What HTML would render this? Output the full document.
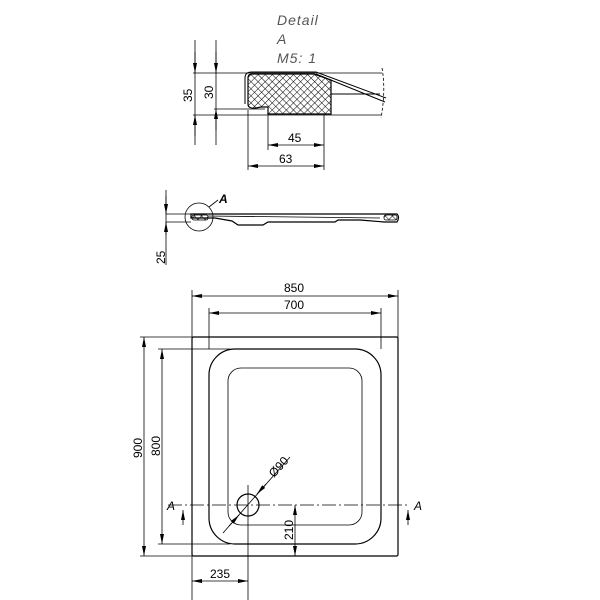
<!DOCTYPE html>
<html><head><meta charset="utf-8"><style>body{margin:0;background:#fff}svg{display:block}</style></head>
<body>
<svg width="600" height="600" viewBox="0 0 600 600" xmlns="http://www.w3.org/2000/svg" font-family="Liberation Sans, sans-serif" font-size="12" fill="none" stroke="#000">
<defs>
<pattern id="h" width="5" height="5" patternUnits="userSpaceOnUse" patternTransform="rotate(45)"><path d="M0 0V5M0 0H5" stroke="#000" stroke-width="1"/></pattern>
<marker id="a" viewBox="0 0 10 4" refX="10" refY="2" markerWidth="10" markerHeight="4" orient="auto-start-reverse" markerUnits="userSpaceOnUse"><path d="M0 0L10 2L0 4z" fill="#000" stroke="none"/></marker>
</defs>
<g stroke-width="0.8">
<g fill="#555" stroke="none" font-style="italic" font-size="14" letter-spacing="1"><text x="277" y="25">Detail</text><text x="277" y="44">A</text><text x="277" y="63">M5: 1</text></g>
<line x1="193" y1="73" x2="382" y2="73"/>
<line x1="193" y1="115" x2="381" y2="115"/>
<line x1="214" y1="109" x2="265" y2="109"/>
<line x1="195" y1="40" x2="195" y2="145"/>
<line x1="216" y1="40" x2="216" y2="145"/>
<line x1="195" y1="52" x2="195" y2="73" marker-end="url(#a)"/>
<line x1="195" y1="136" x2="195" y2="115" marker-end="url(#a)"/>
<line x1="216" y1="52" x2="216" y2="73" marker-end="url(#a)"/>
<line x1="216" y1="130" x2="216" y2="109" marker-end="url(#a)"/>
<text transform="translate(192,102) rotate(-90)" fill="#000" stroke="none">35</text>
<text transform="translate(213,99) rotate(-90)" fill="#000" stroke="none">30</text>
<path d="M248 78 Q248 74 252 74 H314 L331 80 V114 H268 V107 H261 L256 108 Q248 109 248 104 Z" fill="url(#h)" stroke-width="1.2"/>
<path d="M245 104 V78 Q245 72 252 72 H316 L386 98 M316 74 L385 102 M331 94 H380" stroke-width="1"/>
<path d="M382 68 Q386 90 381 118" stroke-dasharray="3 2"/>
<line x1="248" y1="110" x2="248" y2="170"/>
<line x1="268" y1="115" x2="268" y2="150"/>
<line x1="324" y1="115" x2="324" y2="170"/>
<line x1="268" y1="145" x2="324" y2="145" marker-start="url(#a)" marker-end="url(#a)"/>
<line x1="248" y1="166" x2="324" y2="166" marker-start="url(#a)" marker-end="url(#a)"/>
<text x="288" y="142" fill="#000" stroke="none">45</text>
<text x="279" y="163" fill="#000" stroke="none">63</text>
<path d="M191 214 H397 Q400 217 397 222 H384 L360 220 H338 L335 222 H268 L263 225 H238 L232 221 L215 218 H191 Z" stroke-width="1.2"/>
<line x1="208" y1="216" x2="380" y2="218"/>
<rect x="192" y="215" width="16" height="5" rx="2" fill="url(#h)"/>
<rect x="384" y="215" width="13" height="5" rx="2" fill="url(#h)"/>
<circle cx="199" cy="217" r="14"/>
<line x1="209" y1="207" x2="218" y2="200"/>
<text x="219" y="203" fill="#000" stroke="none" font-style="italic" font-weight="bold">A</text>
<line x1="166" y1="190" x2="166" y2="265"/>
<line x1="166" y1="196" x2="166" y2="214" marker-end="url(#a)"/>
<line x1="166" y1="235" x2="166" y2="222" marker-end="url(#a)"/>
<line x1="166" y1="214" x2="191" y2="214"/><line x1="166" y1="222" x2="191" y2="222"/>
<text transform="translate(165,264) rotate(-90)" fill="#000" stroke="none">25</text>
<rect x="192" y="337" width="206" height="219" rx="1.5" stroke-width="1.2"/>
<rect x="209" y="349" width="172" height="195" rx="26" stroke-width="1.2"/>
<rect x="228" y="368" width="134" height="157" rx="13"/>
<circle cx="248" cy="505" r="11" stroke-width="1.2"/>
<line x1="168" y1="505" x2="410" y2="505" stroke-dasharray="14 3 2 3"/>
<line x1="248" y1="485" x2="248" y2="600"/>
<line x1="223" y1="533" x2="290" y2="457"/>
<line x1="266" y1="484" x2="257" y2="494" marker-end="url(#a)"/>
<line x1="229" y1="526" x2="239" y2="515" marker-end="url(#a)"/>
<text transform="translate(274,478) rotate(-48)" fill="#000" stroke="none">Ø90</text>
<text x="167" y="510" fill="#000" stroke="none" font-style="italic">A</text>
<text x="414" y="510" fill="#000" stroke="none" font-style="italic">A</text>
<line x1="183" y1="525" x2="183" y2="510" marker-end="url(#a)"/>
<line x1="408" y1="525" x2="408" y2="510" marker-end="url(#a)"/>
<line x1="192" y1="290" x2="192" y2="337"/><line x1="398" y1="290" x2="398" y2="337"/>
<line x1="192" y1="296" x2="398" y2="296" marker-start="url(#a)" marker-end="url(#a)"/>
<text x="284" y="292" fill="#000" stroke="none">850</text>
<line x1="209" y1="308" x2="209" y2="349"/><line x1="381" y1="308" x2="381" y2="349"/>
<line x1="209" y1="313" x2="381" y2="313" marker-start="url(#a)" marker-end="url(#a)"/>
<text x="284" y="309" fill="#000" stroke="none">700</text>
<line x1="140" y1="337" x2="192" y2="337"/><line x1="140" y1="556" x2="192" y2="556"/>
<line x1="144" y1="337" x2="144" y2="556" marker-start="url(#a)" marker-end="url(#a)"/>
<text transform="translate(142,458) rotate(-90)" fill="#000" stroke="none">900</text>
<line x1="158" y1="349" x2="230" y2="349"/><line x1="158" y1="544" x2="230" y2="544"/>
<line x1="162" y1="349" x2="162" y2="544" marker-start="url(#a)" marker-end="url(#a)"/>
<text transform="translate(160,456) rotate(-90)" fill="#000" stroke="none">800</text>
<line x1="192" y1="556" x2="192" y2="600"/>
<line x1="192" y1="581" x2="248" y2="581" marker-start="url(#a)" marker-end="url(#a)"/>
<text x="210" y="578" fill="#000" stroke="none">235</text>
<line x1="295" y1="505" x2="295" y2="556" marker-start="url(#a)" marker-end="url(#a)"/>
<text transform="translate(293,540) rotate(-90)" fill="#000" stroke="none">210</text>
</g>
</svg>
</body></html>
